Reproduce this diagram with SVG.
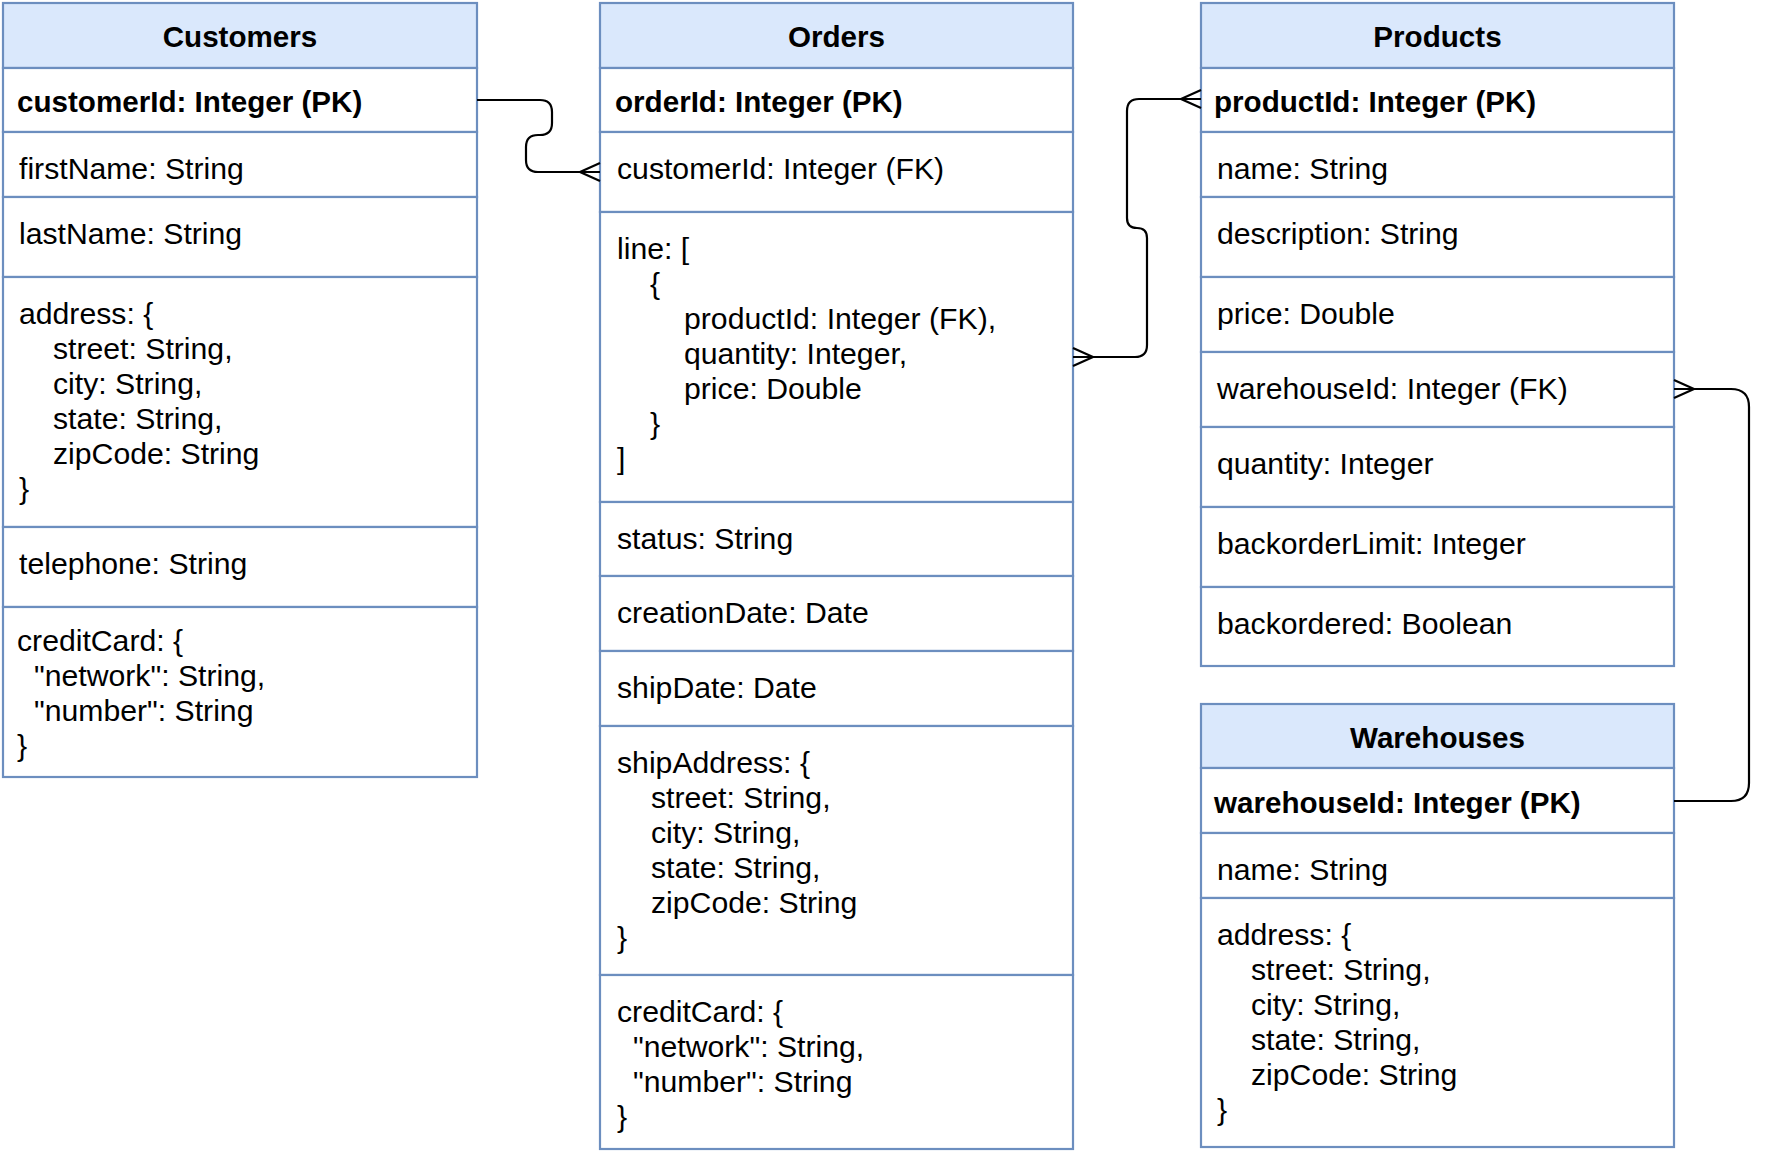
<svg xmlns="http://www.w3.org/2000/svg" width="1770" height="1159" viewBox="0 0 1770 1159">
<style>
.hdr{fill:#dae8fc;stroke:#6c8ebf;stroke-width:2.2}
.row{fill:#ffffff;stroke:#6c8ebf;stroke-width:2.2}
text{font-family:"Liberation Sans",Arial,Helvetica,sans-serif;font-size:30.2px;fill:#000}
.b{font-weight:bold;font-size:29.6px}
.c{text-anchor:middle;font-weight:bold;font-size:29.6px}
.edge{fill:none;stroke:#000;stroke-width:2.2}
</style>
<rect x="0" y="0" width="1770" height="1159" fill="#ffffff"/>
<g id="customers">
<rect class="hdr" x="3" y="3" width="474" height="65"/>
<rect class="row" x="3" y="68" width="474" height="64"/>
<rect class="row" x="3" y="132" width="474" height="65"/>
<rect class="row" x="3" y="197" width="474" height="80"/>
<rect class="row" x="3" y="277" width="474" height="250"/>
<rect class="row" x="3" y="527" width="474" height="80"/>
<rect class="row" x="3" y="607" width="474" height="170"/>
<text class="c" x="240" y="47">Customers</text>
<text class="b" x="17" y="112">customerId: Integer (PK)</text>
<text x="19" y="179">firstName: String</text>
<text x="19" y="244">lastName: String</text>
<text x="19" y="324">address: {</text>
<text x="53" y="359">street: String,</text>
<text x="53" y="394">city: String,</text>
<text x="53" y="429">state: String,</text>
<text x="53" y="464">zipCode: String</text>
<text x="19" y="499">}</text>
<text x="19" y="574">telephone: String</text>
<text x="17" y="651">creditCard: {</text>
<text x="34" y="686">"network": String,</text>
<text x="34" y="721">"number": String</text>
<text x="17" y="756">}</text>
</g>
<g id="orders">
<rect class="hdr" x="600" y="3" width="473" height="65"/>
<rect class="row" x="600" y="68" width="473" height="64"/>
<rect class="row" x="600" y="132" width="473" height="80"/>
<rect class="row" x="600" y="212" width="473" height="290"/>
<rect class="row" x="600" y="502" width="473" height="74"/>
<rect class="row" x="600" y="576" width="473" height="75"/>
<rect class="row" x="600" y="651" width="473" height="75"/>
<rect class="row" x="600" y="726" width="473" height="249"/>
<rect class="row" x="600" y="975" width="473" height="174"/>
<text class="c" x="836.5" y="47">Orders</text>
<text class="b" x="615" y="112">orderId: Integer (PK)</text>
<text x="617" y="179">customerId: Integer (FK)</text>
<text x="617" y="259">line: [</text>
<text x="650" y="294">{</text>
<text x="684" y="329">productId: Integer (FK),</text>
<text x="684" y="364">quantity: Integer,</text>
<text x="684" y="399">price: Double</text>
<text x="650" y="434">}</text>
<text x="617" y="469">]</text>
<text x="617" y="549">status: String</text>
<text x="617" y="623">creationDate: Date</text>
<text x="617" y="698">shipDate: Date</text>
<text x="617" y="773">shipAddress: {</text>
<text x="651" y="808">street: String,</text>
<text x="651" y="843">city: String,</text>
<text x="651" y="878">state: String,</text>
<text x="651" y="913">zipCode: String</text>
<text x="617" y="948">}</text>
<text x="617" y="1022">creditCard: {</text>
<text x="633" y="1057">"network": String,</text>
<text x="633" y="1092">"number": String</text>
<text x="617" y="1127">}</text>
</g>
<g id="products">
<rect class="hdr" x="1201" y="3" width="473" height="65"/>
<rect class="row" x="1201" y="68" width="473" height="64"/>
<rect class="row" x="1201" y="132" width="473" height="65"/>
<rect class="row" x="1201" y="197" width="473" height="80"/>
<rect class="row" x="1201" y="277" width="473" height="75"/>
<rect class="row" x="1201" y="352" width="473" height="75"/>
<rect class="row" x="1201" y="427" width="473" height="80"/>
<rect class="row" x="1201" y="507" width="473" height="80"/>
<rect class="row" x="1201" y="587" width="473" height="79"/>
<text class="c" x="1437.5" y="47">Products</text>
<text class="b" x="1214" y="112">productId: Integer (PK)</text>
<text x="1217" y="179">name: String</text>
<text x="1217" y="244">description: String</text>
<text x="1217" y="324">price: Double</text>
<text x="1217" y="399">warehouseId: Integer (FK)</text>
<text x="1217" y="474">quantity: Integer</text>
<text x="1217" y="554">backorderLimit: Integer</text>
<text x="1217" y="634">backordered: Boolean</text>
</g>
<g id="warehouses">
<rect class="hdr" x="1201" y="704" width="473" height="64"/>
<rect class="row" x="1201" y="768" width="473" height="65"/>
<rect class="row" x="1201" y="833" width="473" height="65"/>
<rect class="row" x="1201" y="898" width="473" height="249"/>
<text class="c" x="1437.5" y="748">Warehouses</text>
<text class="b" x="1214" y="813">warehouseId: Integer (PK)</text>
<text x="1217" y="880">name: String</text>
<text x="1217" y="945">address: {</text>
<text x="1251" y="980">street: String,</text>
<text x="1251" y="1015">city: String,</text>
<text x="1251" y="1050">state: String,</text>
<text x="1251" y="1085">zipCode: String</text>
<text x="1217" y="1120">}</text>
</g>
<g id="connectors">
<path class="edge" d="M477,100 H540 q12,0 12,12 V123 q0,12 -12,12 H538 q-12,0 -12,12 V160 q0,12 12,12 H600"/>
<path class="edge" d="M600,163 L580,172 L600,181"/>
<path class="edge" d="M1073,357 H1135 q12,0 12,-12 V238 q0,-10 -10,-10 H1137 q-10,0 -10,-10 V111 q0,-12 12,-12 H1201"/>
<path class="edge" d="M1073,348 L1093,357 L1073,366"/>
<path class="edge" d="M1201,90 L1181,99 L1201,108"/>
<path class="edge" d="M1674,389 H1731 q18,0 18,18 V783 q0,18 -18,18 H1674"/>
<path class="edge" d="M1674,380 L1694,389 L1674,398"/>
</g>
</svg>
